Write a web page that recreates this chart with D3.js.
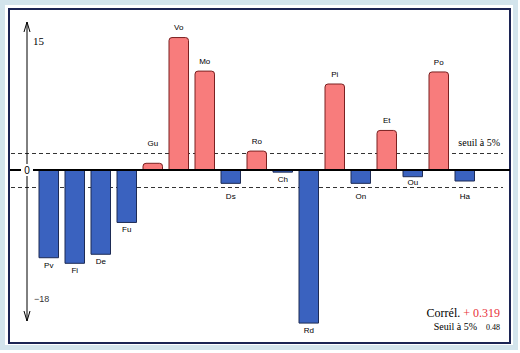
<!DOCTYPE html>
<html>
<head>
<meta charset="utf-8">
<script src="https://cdn.jsdelivr.net/npm/d3@7"></script>
<style>
  body { margin: 0; background: #fff; }
</style>
</head>
<body>
<div id="chart"></div>
<script>
// data
var codes  = ['Pv','Fi','De','Fu','Gu','Vo','Mo','Ds','Ro','Ch','Rd','Pi','On','Et','Ou','Po','Ha'];
var values = [-10.2,-10.85,-9.8,-6.1,0.78,15.4,11.5,-1.55,2.2,-0.25,-17.8,10.0,-1.55,4.6,-0.78,11.4,-1.28];
var seuil  = 2;            // threshold lines (+/-)
var correl = '+ 0.319';
var seuil5 = '0.48';

var chart_width  = 520;
var chart_height = 353;

var svg = d3.select('#chart')
		.append('svg')
		.attr('width', chart_width)
		.attr('height', chart_height);

// frame
svg.append('rect')
		.attr('x', 2.5).attr('y', 2.5)
		.attr('width', 513).attr('height', 345)
		.attr('fill', 'none')
		.attr('stroke', '#d3e4ec')
		.attr('stroke-width', 5);
svg.append('rect')
		.attr('x', 9).attr('y', 9)
		.attr('width', 501).attr('height', 334)
		.attr('fill', '#fff')
		.attr('stroke', '#1c2454')
		.attr('stroke-width', 2);

// scales
var y_scale = d3.scaleLinear()
		.domain([-18, 15])
		.range([170 + 18 * 8.6, 170 - 15 * 8.6]);

var x_scale = d3.scaleBand()
		.domain(codes)
		.range([35.75, 477.75])
		.paddingInner(0.25)
		.paddingOuter(0.125);

var y0 = y_scale(0);
var thrUp = y_scale(seuil), thrDn = y_scale(-seuil);

// threshold dashed lines
svg.selectAll('line.seuil')
		.data([seuil, -seuil])
		.enter()
		.append('line')
		.attr('class', 'seuil')
		.attr('x1', 11).attr('x2', 503)
		.attr('y1', function(d){ return Math.round(y_scale(d)) + 0.5; })
		.attr('y2', function(d){ return Math.round(y_scale(d)) + 0.5; })
		.attr('stroke', '#333')
		.attr('stroke-width', 1)
		.attr('stroke-dasharray', '4,3');

// bars
var bw = x_scale.bandwidth();
svg.selectAll('path.bar')
		.data(values)
		.enter()
		.append('path')
		.attr('class', 'bar')
		.attr('d', function(d, i){
			var x = x_scale(codes[i]);
			var yv = y_scale(d);
			if (d > 0) {
				var r = Math.min(3, (y0 - yv) / 2);
				return 'M' + x + ',' + y0 +
					'V' + (yv + r) +
					'Q' + x + ',' + yv + ' ' + (x + r) + ',' + yv +
					'H' + (x + bw - r) +
					'Q' + (x + bw) + ',' + yv + ' ' + (x + bw) + ',' + (yv + r) +
					'V' + y0 + 'Z';
			}
			return 'M' + x + ',' + y0 + 'V' + yv + 'H' + (x + bw) + 'V' + y0 + 'Z';
		})
		.attr('fill', function(d){ return d > 0 ? '#f87c7c' : '#3a62bf'; })
		.attr('stroke', function(d){ return d > 0 ? '#7a2020' : '#1d2b55'; })
		.attr('stroke-width', 1);

// bar labels (kept clear of the dashed lines)
svg.selectAll('text.code')
		.data(values)
		.enter()
		.append('text')
		.attr('class', 'code')
		.text(function(d, i){ return codes[i]; })
		.attr('x', function(d, i){ return x_scale(codes[i]) + bw / 2; })
		.attr('y', function(d){
			if (d > 0) return Math.min(y_scale(d), thrUp) - 10;
			var c = y_scale(d) + 7;
			if (c > thrDn - 5 && c <= thrDn) c = thrDn - 5.5;
			else if (c > thrDn && c < thrDn + 5) c = thrDn + 9;
			return c;
		})
		.attr('dy', '0.35em')
		.attr('text-anchor', 'middle')
		.attr('font-family', 'Liberation Sans, Arial, sans-serif')
		.attr('font-size', 8)
		.attr('fill', '#000');

// zero line
svg.append('line')
		.attr('x1', 10).attr('x2', 21)
		.attr('y1', y0).attr('y2', y0)
		.attr('stroke', '#000').attr('stroke-width', 2);
svg.append('line')
		.attr('x1', 33).attr('x2', 510)
		.attr('y1', y0).attr('y2', y0)
		.attr('stroke', '#000').attr('stroke-width', 2);

// vertical axis with arrows
var axTop = 22, axBot = 321, ax = 27;
svg.append('line')
		.attr('x1', ax).attr('x2', ax)
		.attr('y1', axTop).attr('y2', y0 - 6)
		.attr('stroke', '#000').attr('stroke-width', 1);
svg.append('line')
		.attr('x1', ax).attr('x2', ax)
		.attr('y1', y0 + 6).attr('y2', axBot)
		.attr('stroke', '#000').attr('stroke-width', 1);
svg.append('polyline')
		.attr('points', [[ax - 3, axTop + 10], [ax, axTop], [ax + 3, axTop + 10]].join(' '))
		.attr('fill', 'none').attr('stroke', '#000');
svg.append('polyline')
		.attr('points', [[ax - 3, axBot - 10], [ax, axBot], [ax + 3, axBot - 10]].join(' '))
		.attr('fill', 'none').attr('stroke', '#000');

svg.append('text')
		.text('0')
		.attr('x', ax).attr('y', y0)
		.attr('dy', '0.35em')
		.attr('text-anchor', 'middle')
		.attr('font-family', 'Liberation Sans, Arial, sans-serif')
		.attr('font-size', 10);
svg.append('text')
		.text('15')
		.attr('x', 33).attr('y', y_scale(15))
		.attr('dy', '0.35em')
		.attr('font-family', 'Liberation Serif, Times New Roman, serif')
		.attr('font-size', 11);
svg.append('text')
		.text('\u221218')
		.attr('x', 34).attr('y', y_scale(-15))
		.attr('dy', '0.35em')
		.attr('font-family', 'Liberation Sans, Arial, sans-serif')
		.attr('font-size', 9)
		.attr('fill', '#333');

// annotations
svg.append('text')
		.text('seuil à 5%')
		.attr('x', 500).attr('y', thrUp - 10)
		.attr('dy', '0.35em')
		.attr('text-anchor', 'end')
		.attr('font-family', 'Liberation Serif, Times New Roman, serif')
		.attr('font-size', 10);

var corr = svg.append('text')
		.attr('x', 500).attr('y', 317)
		.attr('text-anchor', 'end')
		.attr('font-family', 'Liberation Serif, Times New Roman, serif')
		.attr('font-size', 12);
corr.append('tspan').text('Corrél. ').attr('fill', '#000');
corr.append('tspan').text(correl).attr('fill', '#e8303a');

var s5 = svg.append('text')
		.attr('x', 500).attr('y', 330)
		.attr('text-anchor', 'end')
		.attr('font-family', 'Liberation Serif, Times New Roman, serif')
		.attr('font-size', 10);
s5.append('tspan').text('Seuil à 5%').attr('fill', '#000');
s5.append('tspan').text(seuil5).attr('dx', 9).attr('font-size', 8);
</script>
</body>
</html>
